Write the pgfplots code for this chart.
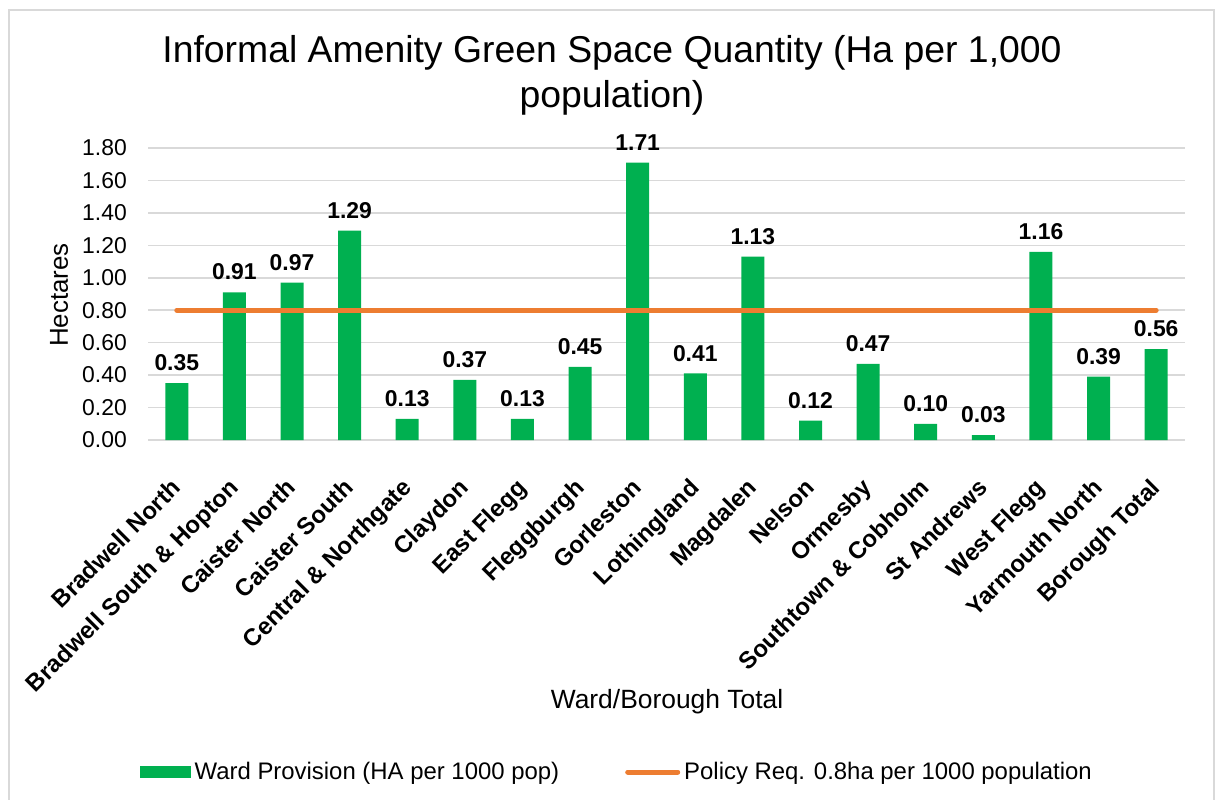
\documentclass[border=0pt]{standalone}
\usepackage{fontspec}
\setmainfont{Liberation Sans}
\usepackage{pgfplots}
\pgfplotsset{compat=1.18}
\definecolor{barGreen}{HTML}{00B050}
\definecolor{reqOrange}{HTML}{ED7D31}
\definecolor{gridGray}{HTML}{D9D9D9}

\begin{document}
\begin{tikzpicture}
\path[use as bounding box] (0,0) rectangle (1215bp,800bp);
% chart frame (no bottom edge visible)
\draw[gridGray, line width=1.5bp] (9bp,-5bp) -- (9bp,790bp) -- (1214bp,790bp) -- (1214bp,-5bp);
\node[align=center, font=\fontsize{37.5}{45}\selectfont] at (612bp,725bp)
  {Informal Amenity Green Space Quantity (Ha per 1,000\\population)};
\begin{axis}[
    at={(148bp,360bp)}, anchor=south west,
    scale only axis, width=1037bp, height=292bp,
    xmin=-0.5, xmax=17.5, ymin=0, ymax=1.8,
    ytick={0,0.2,0.4,0.6,0.8,1.0,1.2,1.4,1.6,1.8},
    xtick={0,...,17},
    xticklabels={Bradwell North, Bradwell South \& Hopton, Caister North, Caister South,
      Central \& Northgate, Claydon, East Flegg, Fleggburgh, Gorleston, Lothingland,
      Magdalen, Nelson, Ormesby, Southtown \& Cobholm, St Andrews, West Flegg,
      Yarmouth North, Borough Total},
    /pgf/number format/assume math mode=true,
    yticklabel={\pgfmathprintnumber[fixed, fixed zerofill, precision=2]{\tick}},
    yticklabel style={font=\fontsize{23}{23}\selectfont, anchor=east, inner sep=0pt, xshift=-21bp},
    xticklabel style={font=\bfseries\fontsize{24}{24}\selectfont, inner sep=0pt,
      anchor=north east, xshift=-7bp, yshift=-37bp, rotate=45},
    ymajorgrids, major grid style={gridGray, line width=1.5bp},
    axis line style={draw=none}, tick style={draw=none},
    clip=false,
    legend style={at={(0.453,-1.137)}, anchor=center, draw=none, fill=none,
      font=\fontsize{24}{24}\selectfont, legend columns=2,
      nodes={inner xsep=4bp},
      /tikz/every even column/.append style={column sep=62bp}},
    legend cell align=left,
]
\addplot[ybar, bar width=23bp, fill=barGreen, draw=none,
  nodes near coords={\pgfmathprintnumber[fixed, fixed zerofill, precision=2]{\pgfplotspointmeta}},
  nodes near coords style={font=\bfseries\fontsize{23}{23}\selectfont, anchor=south, inner sep=0pt, yshift=12bp},
  legend image code/.code={\fill[barGreen] (0bp,-6bp) rectangle (51bp,6bp);}]
  coordinates {(0,0.35) (1,0.91) (2,0.97) (3,1.29) (4,0.13) (5,0.37) (6,0.13) (7,0.45) (8,1.71)
    (9,0.41) (10,1.13) (11,0.12) (12,0.47) (13,0.10) (14,0.03) (15,1.16) (16,0.39) (17,0.56)};
\addlegendentry{Ward Provision (HA per 1000 pop)}
\addplot[reqOrange, line width=5bp, line cap=round, mark=none,
  legend image code/.code={\draw[reqOrange, line width=5bp, line cap=round] (2bp,0) -- (52bp,0);}]
  coordinates {(0,0.8) (1,0.8) (2,0.8) (3,0.8) (4,0.8) (5,0.8) (6,0.8) (7,0.8) (8,0.8)
    (9,0.8) (10,0.8) (11,0.8) (12,0.8) (13,0.8) (14,0.8) (15,0.8) (16,0.8) (17,0.8)};
\addlegendentry{Policy Req. 0.8ha per 1000 population}
\end{axis}
\node[font=\fontsize{26.5}{26.5}\selectfont] at (667bp,98bp) {Ward/Borough Total};
\node[font=\fontsize{26}{26}\selectfont, rotate=90] at (59bp,505bp) {Hectares};
\end{tikzpicture}
\end{document}
